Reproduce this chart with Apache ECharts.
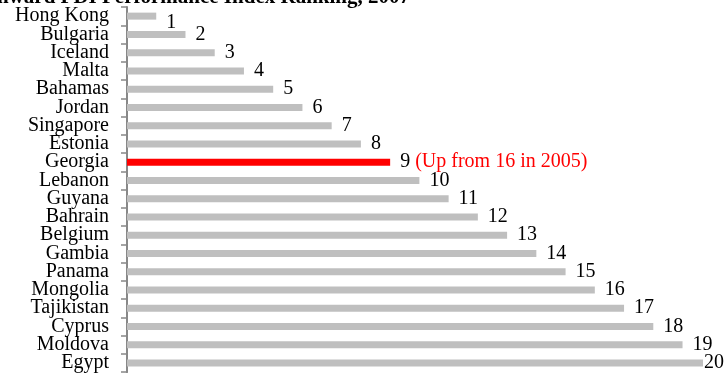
<!DOCTYPE html>
<html>
<head>
<meta charset="utf-8">
<script src="https://cdn.jsdelivr.net/npm/echarts@6/dist/echarts.min.js"></script>
<style>
    html, body { margin: 0; padding: 0; background: #fff; }
    #chart { width: 726px; height: 373px; }
</style>
</head>
<body>
<div id="chart"></div>
<script>
// countries, top to bottom
const countries = ['Hong Kong', 'Bulgaria', 'Iceland', 'Malta', 'Bahamas', 'Jordan', 'Singapore', 'Estonia', 'Georgia', 'Lebanon',
    'Guyana', 'Bahrain', 'Belgium', 'Gambia', 'Panama', 'Mongolia', 'Tajikistan', 'Cyprus', 'Moldova', 'Egypt'];
// ranking values
const ranks = [1, 2, 3, 4, 5, 6, 7, 8, 9, 10, 11, 12, 13, 14, 15, 16, 17, 18, 19, 20];
const highlight = 'Georgia';
const highlightNote = '(Up from 16 in 2005)';
const titleText = 'Inward FDI Performance Index Ranking, 2007';

const serif = '"Liberation Serif", "Times New Roman", serif';

const chart = echarts.init(document.getElementById('chart'));

const barData = ranks.map((v, i) => {
    const item = {value: v};
    if (countries[i] === highlight) {
        item.itemStyle = {color: '#FF0000'};
        item.label = {formatter: '{a|{c}} {b|' + highlightNote + '}'};
    }
    if (i === 0) {
        item.label = {offset: [0, 7]}; // 1 sits a little lower
    }
    if (i === ranks.length - 1) {
        item.label = {distance: 1}; // squeezed at the right edge
    }
    return item;
});

chart.setOption({
    animation: false,
    graphic: [{
        type: 'text',
        x: 410,
        y: -2,
        style: {
            text: titleText,
            font: 'bold 21px ' + serif,
            fill: '#000',
            align: 'right',
            verticalAlign: 'middle',
        },
    }],
    grid: {left: 127, right: 23, top: 7, bottom: 0},
    xAxis: {
        type: 'value',
        min: 0,
        max: 19.7,
        show: false,
    },
    yAxis: {
        type: 'category',
        inverse: true,
        data: countries,
        axisLine: {show: true, lineStyle: {color: '#888', width: 2}},
        axisTick: {show: true, interval: 0, length: 6, lineStyle: {color: '#888', width: 1.5}},
        axisLabel: {
            interval: 0,
            margin: 18,
            padding: [5, 0, 0, 0],
            color: '#000',
            fontSize: 20,
            fontFamily: serif,
        },
    },
    series: [{
        type: 'bar',
        data: barData,
        barWidth: 7,
        clip: true,
        itemStyle: {color: '#BFBFBF'},
        label: {
            show: true,
            position: 'right',
            distance: 10,
            color: '#000',
            fontSize: 20,
            fontFamily: serif,
            rich: {
                a: {color: '#000', fontSize: 20, fontFamily: serif},
                b: {color: '#FF0000', fontSize: 20, fontFamily: serif},
            },
        },
    }],
});
</script>
</body>
</html>
